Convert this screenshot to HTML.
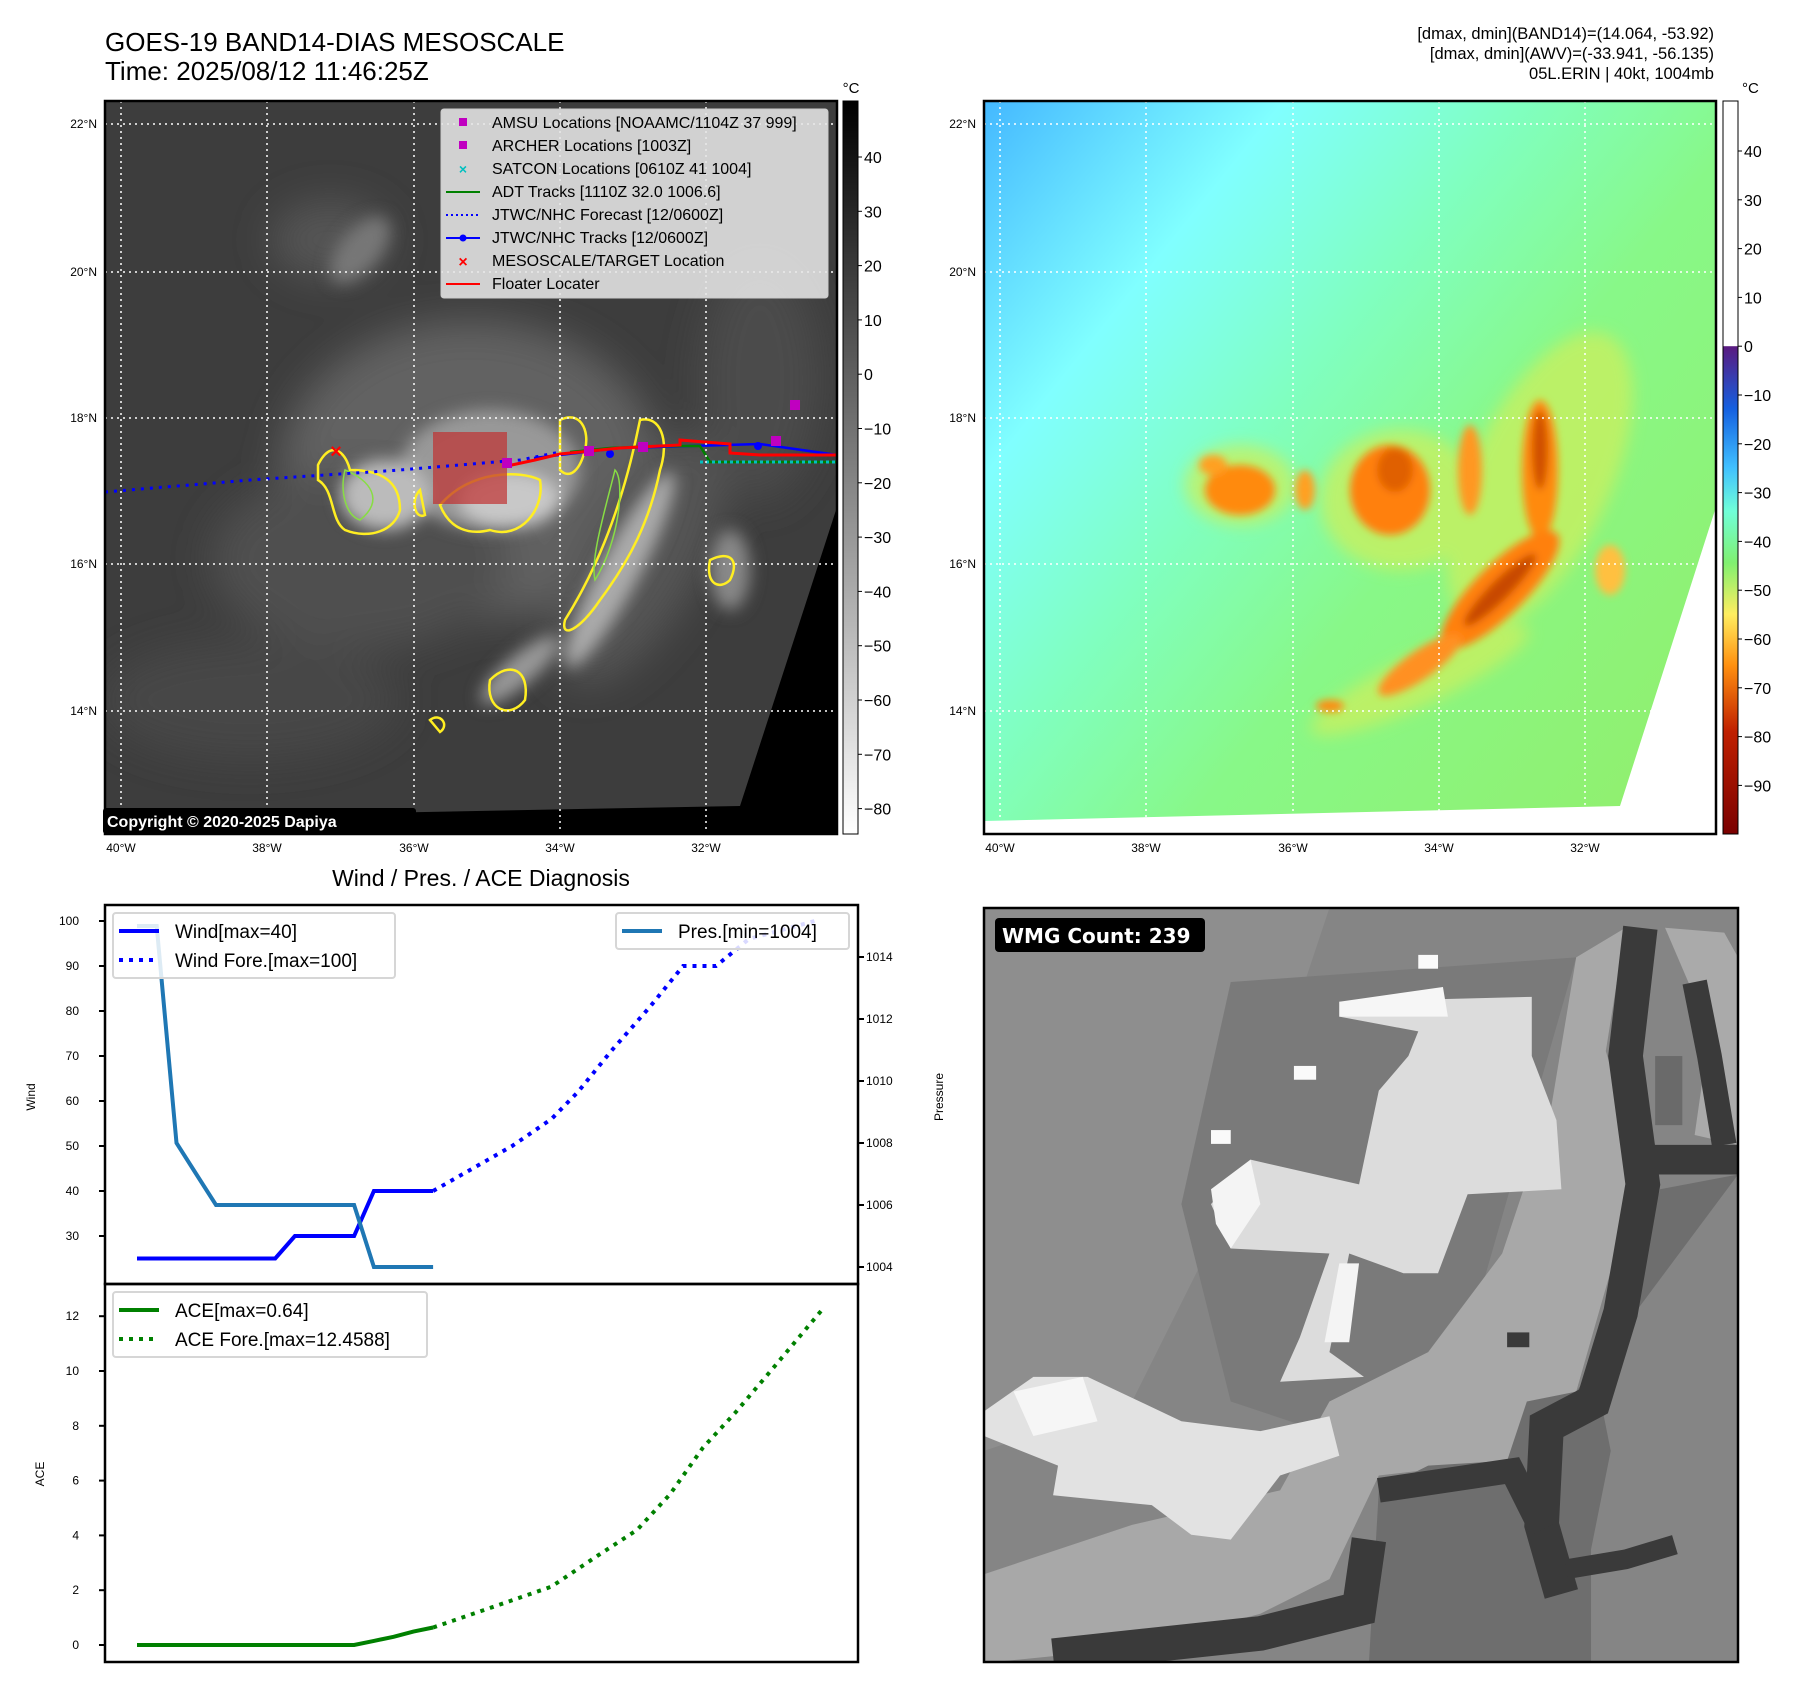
<!DOCTYPE html>
<html><head><meta charset="utf-8"><style>
html,body{margin:0;padding:0;background:#fff;}
svg{display:block;font-family:"Liberation Sans","DejaVu Sans",sans-serif;}
</style></head><body>
<svg id="fig" width="1797" height="1690" viewBox="0 0 1797 1690" xmlns="http://www.w3.org/2000/svg">
<defs>
<filter id="bl8" x="-50%" y="-50%" width="200%" height="200%"><feGaussianBlur stdDeviation="8"/></filter>
<filter id="bl4" x="-50%" y="-50%" width="200%" height="200%"><feGaussianBlur stdDeviation="4"/></filter>
<filter id="bl20" x="-50%" y="-50%" width="200%" height="200%"><feGaussianBlur stdDeviation="20"/></filter>
<clipPath id="clipL"><rect x="105" y="101" width="732" height="733"/></clipPath>
<clipPath id="clipR"><rect x="984" y="101" width="732" height="733"/></clipPath>
<clipPath id="clipB"><rect x="984" y="908" width="754" height="754"/></clipPath>
<linearGradient id="gray" x1="0" y1="0" x2="0" y2="1"><stop offset="0" stop-color="#000"/><stop offset="1" stop-color="#fff"/></linearGradient>
<linearGradient id="jet" x1="0" y1="0" x2="0" y2="1">
<stop offset="0" stop-color="#fff"/><stop offset="0.334" stop-color="#fff"/>
<stop offset="0.335" stop-color="#5a1a80"/><stop offset="0.42" stop-color="#1560e0"/>
<stop offset="0.5" stop-color="#40c0ff"/><stop offset="0.56" stop-color="#70ffd8"/>
<stop offset="0.63" stop-color="#80f070"/><stop offset="0.7" stop-color="#ffee60"/>
<stop offset="0.77" stop-color="#ff9010"/><stop offset="0.86" stop-color="#c02000"/>
<stop offset="1" stop-color="#7a0000"/></linearGradient>
<linearGradient id="awv" x1="0" y1="0" x2="1" y2="0.8">
<stop offset="0" stop-color="#44b8ff"/><stop offset="0.25" stop-color="#80ffff"/>
<stop offset="0.45" stop-color="#80ffc0"/><stop offset="0.65" stop-color="#88f888"/>
<stop offset="1" stop-color="#90f070"/></linearGradient>
</defs>

<text x="105" y="51" font-size="26">GOES-19 BAND14-DIAS MESOSCALE</text>
<text x="105" y="80" font-size="26">Time: 2025/08/12 11:46:25Z</text>
<g font-size="16.5" text-anchor="end">
<text x="1714" y="39">[dmax, dmin](BAND14)=(14.064, -53.92)</text>
<text x="1714" y="59">[dmax, dmin](AWV)=(-33.941, -56.135)</text>
<text x="1714" y="79">05L.ERIN | 40kt, 1004mb</text>
</g>

<!-- Left IR map -->
<g clip-path="url(#clipL)">
<rect x="105" y="101" width="732" height="733" fill="#3d3d3d"/>
<g filter="url(#bl20)">
<ellipse cx="470" cy="470" rx="190" ry="150" fill="#626262"/>
<ellipse cx="330" cy="240" rx="60" ry="40" fill="#555"/>
<ellipse cx="360" cy="560" rx="150" ry="90" fill="#505050"/>
<ellipse cx="640" cy="560" rx="60" ry="140" fill="#555" transform="rotate(30 640 560)"/>
<ellipse cx="760" cy="380" rx="60" ry="120" fill="#4c4c4c"/>
<ellipse cx="250" cy="700" rx="150" ry="60" fill="#474747"/>
</g>
<g filter="url(#bl8)">
<ellipse cx="490" cy="470" rx="90" ry="60" fill="#999"/>
<ellipse cx="385" cy="495" rx="45" ry="35" fill="#bbb"/>
<ellipse cx="510" cy="500" rx="50" ry="28" fill="#c8c8c8"/>
<ellipse cx="620" cy="570" rx="20" ry="110" fill="#aaa" transform="rotate(28 620 570)"/>
<ellipse cx="520" cy="670" rx="15" ry="50" fill="#999" transform="rotate(50 520 670)"/>
<ellipse cx="730" cy="570" rx="20" ry="40" fill="#888"/>
<ellipse cx="360" cy="250" rx="20" ry="40" fill="#777" transform="rotate(40 360 250)"/>
</g>
<g fill="none" stroke="#ffee22" stroke-width="2.5">
<path d="M318,465 C330,440 345,450 350,470 C380,470 400,480 400,510 C395,530 370,540 345,530 C330,520 335,490 318,480 Z"/>
<path d="M440,505 C470,470 520,470 540,480 C545,510 520,540 490,530 C470,535 450,530 440,505 Z"/>
<path d="M420,490 C410,500 415,520 425,515 Z"/>
<path d="M560,420 C580,410 590,430 585,450 C580,470 570,480 560,470 Z"/>
<path d="M640,420 C660,415 670,440 660,470 C650,520 630,560 600,600 C580,630 560,640 565,620 C590,580 620,520 640,420 Z"/>
<path d="M490,680 C510,660 530,670 525,700 C510,720 485,710 490,680 Z"/>
<path d="M710,560 C730,550 740,560 730,580 C720,590 705,585 710,560 Z"/>
<path d="M430,720 C440,712 450,725 440,732 Z"/>
</g>
<g fill="none" stroke="#88dd44" stroke-width="1.5">
<path d="M345,470 C370,480 385,500 360,520 C345,515 340,490 345,470 Z"/>
<path d="M615,470 C625,480 620,540 595,580 C590,560 605,510 615,470 Z"/>
</g>
<polygon points="837,507 740,806 105,818 105,834 837,834" fill="#000"/>
<rect x="433" y="432" width="74" height="72" fill="#c03030" fill-opacity="0.7"/>
</g>
<g clip-path="url(#clipL)">
<polyline points="105,492 250,480 400,470 520,460 560,452" fill="none" stroke="#0000ff" stroke-width="3" stroke-dasharray="3 6"/>
<polyline points="534,458 560,455 620,448 690,446 760,444 837,455" fill="none" stroke="#0000ff" stroke-width="2.5"/>
<circle cx="610" cy="454" r="4" fill="#0000ff"/><circle cx="758" cy="446" r="4" fill="#0000ff"/>
<polyline points="570,452 610,448 660,446 700,446 710,462 837,462" fill="none" stroke="#008000" stroke-width="2.5"/>
<polyline points="700,462 837,462" fill="none" stroke="#00c0c0" stroke-width="3" stroke-dasharray="3 3"/>
<polyline points="507,466 535,460 560,454 620,448 680,445 680,440 730,444 730,453 760,455 837,455" fill="none" stroke="#ff0000" stroke-width="3"/>
<g fill="#c000c0"><rect x="502" y="458" width="10" height="10"/><rect x="584" y="446" width="10" height="10"/><rect x="638" y="442" width="10" height="10"/><rect x="790" y="400" width="10" height="10"/><rect x="771" y="436" width="10" height="10"/></g>
<text x="336" y="458" font-size="20" font-weight="bold" fill="#ff0000" text-anchor="middle">×</text>
</g>
<g stroke="#fff" stroke-width="1.5" stroke-dasharray="2 4">
<line x1="121" y1="101" x2="121" y2="834"/><line x1="267" y1="101" x2="267" y2="834"/><line x1="414" y1="101" x2="414" y2="834"/><line x1="560" y1="101" x2="560" y2="834"/><line x1="706" y1="101" x2="706" y2="834"/>
<line x1="105" y1="124" x2="837" y2="124"/><line x1="105" y1="272" x2="837" y2="272"/><line x1="105" y1="418" x2="837" y2="418"/><line x1="105" y1="564" x2="837" y2="564"/><line x1="105" y1="711" x2="837" y2="711"/>
</g>
<rect x="105" y="101" width="732" height="733" fill="none" stroke="#000" stroke-width="2.5"/>
<rect x="103" y="808" width="313" height="26" rx="3" fill="#000"/>
<text x="107" y="827" font-size="16" font-weight="bold" fill="#fff">Copyright © 2020-2025 Dapiya</text>

<g font-size="16">
<rect x="441" y="109" width="387" height="189" rx="3" fill="#e6e6e6" fill-opacity="0.88" stroke="#ccc"/>
<rect x="459" y="118" width="8" height="8" fill="#c000c0"/><text x="492" y="128">AMSU Locations [NOAAMC/1104Z 37 999]</text>
<rect x="459" y="141" width="8" height="8" fill="#c000c0"/><text x="492" y="151">ARCHER Locations [1003Z]</text>
<text x="463" y="174" fill="#00c0c0" text-anchor="middle" font-weight="bold" font-size="14">×</text><text x="492" y="174">SATCON Locations [0610Z 41 1004]</text>
<line x1="446" y1="192" x2="480" y2="192" stroke="#008000" stroke-width="2"/><text x="492" y="197">ADT Tracks [1110Z 32.0 1006.6]</text>
<line x1="446" y1="215" x2="480" y2="215" stroke="#0000ff" stroke-width="2" stroke-dasharray="2 3"/><text x="492" y="220">JTWC/NHC Forecast [12/0600Z]</text>
<line x1="446" y1="238" x2="480" y2="238" stroke="#0000ff" stroke-width="2"/><circle cx="463" cy="238" r="3.5" fill="#0000ff"/><text x="492" y="243">JTWC/NHC Tracks [12/0600Z]</text>
<text x="463" y="267" fill="#ff0000" text-anchor="middle" font-weight="bold" font-size="16">×</text><text x="492" y="266">MESOSCALE/TARGET Location</text>
<line x1="446" y1="284" x2="480" y2="284" stroke="#ff0000" stroke-width="2"/><text x="492" y="289">Floater Locater</text>
</g>

<g font-size="16">
<rect x="843" y="101" width="15" height="733" fill="url(#gray)" stroke="#000"/>
<text x="851" y="93" font-size="15" text-anchor="middle">°C</text>
<g id="cb1"></g>
</g>

<!-- Right AWV map -->
<g clip-path="url(#clipR)">
<rect x="984" y="101" width="732" height="733" fill="url(#awv)"/>
<g filter="url(#bl8)" fill="#c8f060" opacity="0.8">
<ellipse cx="1540" cy="480" rx="70" ry="160" transform="rotate(25 1540 480)"/>
<ellipse cx="1400" cy="500" rx="80" ry="70"/>
<ellipse cx="1240" cy="485" rx="55" ry="40"/>
<ellipse cx="1420" cy="680" rx="120" ry="25" transform="rotate(-25 1420 680)"/>
</g>
<g filter="url(#bl4)">
<ellipse cx="1240" cy="490" rx="35" ry="25" fill="#ff8a10"/>
<ellipse cx="1213" cy="465" rx="14" ry="10" fill="#ffa020"/>
<ellipse cx="1305" cy="490" rx="10" ry="20" fill="#ffa020"/>
<ellipse cx="1390" cy="490" rx="40" ry="45" fill="#ff8010"/>
<ellipse cx="1395" cy="470" rx="18" ry="22" fill="#e06000"/>
<ellipse cx="1470" cy="470" rx="12" ry="45" fill="#ff9820"/>
<ellipse cx="1540" cy="470" rx="18" ry="70" fill="#ff8a10"/>
<ellipse cx="1540" cy="450" rx="8" ry="40" fill="#d05000"/>
<ellipse cx="1500" cy="590" rx="25" ry="80" fill="#ff8010" transform="rotate(45 1500 590)"/>
<ellipse cx="1500" cy="590" rx="10" ry="50" fill="#c84800" transform="rotate(45 1500 590)"/>
<ellipse cx="1420" cy="665" rx="14" ry="50" fill="#ff9020" transform="rotate(55 1420 665)"/>
<ellipse cx="1610" cy="570" rx="15" ry="25" fill="#ffc040"/>
<ellipse cx="1330" cy="706" rx="14" ry="6" fill="#ff8a10"/>
</g>
<polygon points="1716,507 1620,806 984,821 984,834 1716,834" fill="#fff"/>
</g>
<g stroke="#fff" stroke-width="1.5" stroke-dasharray="2 4">
<line x1="1000" y1="101" x2="1000" y2="834"/><line x1="1146" y1="101" x2="1146" y2="834"/><line x1="1293" y1="101" x2="1293" y2="834"/><line x1="1439" y1="101" x2="1439" y2="834"/><line x1="1585" y1="101" x2="1585" y2="834"/>
<line x1="984" y1="124" x2="1716" y2="124"/><line x1="984" y1="272" x2="1716" y2="272"/><line x1="984" y1="418" x2="1716" y2="418"/><line x1="984" y1="564" x2="1716" y2="564"/><line x1="984" y1="711" x2="1716" y2="711"/>
</g>
<rect x="984" y="101" width="732" height="733" fill="none" stroke="#000" stroke-width="2.5"/>
<g font-size="16">
<rect x="1723" y="101" width="15" height="733" fill="url(#jet)" stroke="#000"/>
<text x="1742" y="93" font-size="15">°C</text>
<g id="cb2"></g>
</g>
<g id="mapticks" font-size="12"></g>

<!-- Bottom-right WMG -->
<g clip-path="url(#clipB)">
<g transform="translate(984,908) scale(0.4935)">
<rect x="0" y="0" width="1528" height="1528" fill="#858585"/>
<polygon points="0,0 700,0 500,600 300,1000 0,1100" fill="#8e8e8e"/>
<polygon points="500,150 1200,100 1000,800 800,1100 500,1000 400,600" fill="#7a7a7a"/>
<polygon points="1200,100 1300,40 1260,290 1340,560 1280,700 1200,980 1060,1120 800,1150 700,1360 560,1430 300,1500 0,1530 0,1350 300,1250 600,1180 700,1000 900,900 1050,700 1150,400" fill="#a8a8a8"/>
<polygon points="1380,40 1500,50 1528,100 1528,480 1440,460 1470,250" fill="#aaa"/>
<polygon points="720,190 1110,180 1110,300 1160,430 1170,570 980,580 920,740 850,740 740,700 700,900 770,950 600,960 640,870 700,700 500,690 460,600 540,510 760,560 800,370 860,300 880,250 720,220" fill="#dcdcdc"/>
<polygon points="720,190 930,160 940,220 720,220" fill="#f6f6f6"/>
<polygon points="460,570 540,510 560,600 500,690 470,640" fill="#f4f4f4"/>
<polygon points="720,720 760,720 740,880 690,880" fill="#f4f4f4"/>
<polygon points="0,1020 100,950 210,950 400,1040 560,1060 700,1030 720,1110 600,1150 500,1280 420,1270 340,1210 140,1190 150,1130 0,1070" fill="#e2e2e2"/>
<polygon points="60,980 200,950 230,1040 100,1070" fill="#f6f6f6"/>
<polygon points="1528,540 1370,570 1300,820 1250,1000 1270,1100 1230,1300 1230,1530 780,1530 800,1180 900,1130 1060,1120 1100,1000 1200,980" fill="#6e6e6e"/>
<g fill="none" stroke="#3a3a3a" stroke-linejoin="miter">
<polyline points="1330,40 1300,300 1335,560 1290,820 1235,1000 1140,1050 1130,1250 1170,1390" stroke-width="70"/>
<polyline points="1440,150 1470,300 1500,480" stroke-width="50"/>
<polyline points="1340,510 1528,510" stroke-width="60"/>
<polyline points="800,1180 1070,1140 1130,1260" stroke-width="50"/>
<polyline points="1180,1340 1300,1320 1400,1290" stroke-width="40"/>
<polyline points="780,1280 760,1420 560,1470 140,1515" stroke-width="70"/>
</g>
<rect x="1360" y="300" width="55" height="140" fill="#6a6a6a"/>
<rect x="880" y="95" width="40" height="28" fill="#fafafa"/><rect x="628" y="320" width="45" height="28" fill="#fafafa"/><rect x="460" y="450" width="40" height="28" fill="#fafafa"/>
<rect x="1060" y="860" width="45" height="30" fill="#3a3a3a"/>
</g>
</g>
<rect x="984" y="908" width="754" height="754" fill="none" stroke="#000" stroke-width="2.5"/>
<rect x="995" y="918" width="210" height="34" rx="4" fill="#000"/>
<text x="1002" y="943" font-size="20" font-weight="bold" fill="#fff" font-family="DejaVu Sans, sans-serif">WMG Count: 239</text>

<text x="481" y="886" font-size="23" text-anchor="middle">Wind / Pres. / ACE Diagnosis</text>
<g id="chart"></g>
</svg>
<script>
var obsHours = [0,3,6,9,12,15,18,21,24,27,30,33,36,39,42,45];
var windObs = [25,25,25,25,25,25,25,25,30,30,30,30,40,40,40,40];
var presObs = [1015,1015,1008,1007,1006,1006,1006,1006,1006,1006,1006,1006,1004,1004,1004,1004];
var aceObs = [0,0,0,0,0,0,0,0,0,0,0,0,0.15,0.3,0.49,0.64];
var windForeHours = [45,51,57,63,67,72,78,83,88,93,103];
var windFore = [40,45,50,56,62,71,81,90,90,96,100];
var aceForeHours = [45,54,63,70,76,81,86,91,97,104];
var aceFore = [0.64,1.38,2.13,3.26,4.2,5.5,7.2,8.5,10.2,12.2];
var windTicks = [30,40,50,60,70,80,90,100];
var presTicks = [1004,1006,1008,1010,1012,1014];
var aceTicks = [0,2,4,6,8,10,12];
var cb1Ticks = [40,30,20,10,0,-10,-20,-30,-40,-50,-60,-70,-80];
var cb2Ticks = [40,30,20,10,0,-10,-20,-30,-40,-50,-60,-70,-80,-90];
var lonLabels = ["40°W","38°W","36°W","34°W","32°W"];
var latLabels = ["22°N","20°N","18°N","16°N","14°N"];

var NS = "http://www.w3.org/2000/svg";
function mk(tag, attrs, parent, txt){
  var e = document.createElementNS(NS, tag);
  for (var k in attrs) e.setAttribute(k, attrs[k]);
  if (txt !== undefined) e.textContent = txt;
  parent.appendChild(e); return e;
}
function xS(h){ return 137 + h*6.58; }
function wY(v){ return 921 + (100-v)*4.5; }
function pY(p){ return 957 + (1014-p)*31; }
function aY(a){ return 1645 - a*27.4; }
function aPts(xs, ys, fy){ return xs.map(function(h,i){ return xS(h).toFixed(1)+","+fy(ys[i]).toFixed(1); }).join(" "); }

var ch = document.getElementById("chart");
var f1 = mk("rect", {x:105,y:905,width:753,height:379,fill:"none",stroke:"#000","stroke-width":2.5}, ch);


var f2 = mk("rect", {x:105,y:1284,width:753,height:378,fill:"none",stroke:"#000","stroke-width":2.5}, ch);



windTicks.forEach(function(v){
  var y = wY(v);
  mk("line",{x1:99,y1:y,x2:105,y2:y,stroke:"#000","stroke-width":2},ch);
  var t = mk("text",{x:79,y:y+4,"font-size":12,"text-anchor":"end"},ch,String(v));
  
  
});
presTicks.forEach(function(v){
  var y = pY(v);
  mk("line",{x1:858,y1:y,x2:864,y2:y,stroke:"#000","stroke-width":2},ch);
  var t = mk("text",{x:866,y:y+4,"font-size":12},ch,String(v));
  
  
});
aceTicks.forEach(function(v){
  var y = aY(v);
  mk("line",{x1:99,y1:y,x2:105,y2:y,stroke:"#000","stroke-width":2},ch);
  var t = mk("text",{x:79,y:y+4,"font-size":12,"text-anchor":"end"},ch,String(v));
  
  
});
var yl1 = mk("text",{x:0,y:0,"font-size":12,transform:"translate(35,1097) rotate(-90)","text-anchor":"middle"},ch,"Wind");


var yl2 = mk("text",{x:0,y:0,"font-size":12,transform:"translate(943,1097) rotate(-90)","text-anchor":"middle"},ch,"Pressure");


var yl3 = mk("text",{x:0,y:0,"font-size":12,transform:"translate(44,1474) rotate(-90)","text-anchor":"middle"},ch,"ACE");



var sWf = mk("polyline",{points:aPts(windForeHours,windFore,wY),fill:"none",stroke:"#0000ff","stroke-width":4,"stroke-dasharray":"4 6"},ch);


var sW = mk("polyline",{points:aPts(obsHours,windObs,wY),fill:"none",stroke:"#0000ff","stroke-width":4},ch);


var sP = mk("polyline",{points:aPts(obsHours,presObs,pY),fill:"none",stroke:"#1f77b4","stroke-width":4},ch);


var sAf = mk("polyline",{points:aPts(aceForeHours,aceFore,aY),fill:"none",stroke:"#008000","stroke-width":4,"stroke-dasharray":"4 6"},ch);


var sA = mk("polyline",{points:aPts(obsHours,aceObs,aY),fill:"none",stroke:"#008000","stroke-width":4},ch);



function legend(x,y,w,entries,name){
  var g = mk("g",{},ch);
  
  
  mk("rect",{x:x,y:y,width:w,height:entries.length*29+7,rx:3,fill:"#fff","fill-opacity":0.85,stroke:"#d6d6d6","stroke-width":2},g);
  entries.forEach(function(e,i){
    var cy = y+18+i*29;
    var a = {x1:x+6,y1:cy,x2:x+46,y2:cy,stroke:e[1],"stroke-width":4};
    if (e[2]) a["stroke-dasharray"]="4 6";
    mk("line",a,g);
    mk("text",{x:x+62,y:cy+7,"font-size":19},g,e[0]);
  });
}
legend(113,913,282,[["Wind[max=40]","#0000ff",false],["Wind Fore.[max=100]","#0000ff",true]],"wind-legend");
legend(616,913,233,[["Pres.[min=1004]","#1f77b4",false]],"pressure-legend");
legend(113,1292,314,[["ACE[max=0.64]","#008000",false],["ACE Fore.[max=12.4588]","#008000",true]],"ace-legend");

var cb1 = document.getElementById("cb1");
cb1Ticks.forEach(function(v){
  var y = 157 + (40-v)*5.43;
  mk("line",{x1:858,y1:y,x2:862,y2:y,stroke:"#000"},cb1);
  var t = mk("text",{x:864,y:y+6,"font-size":16},cb1,String(v).replace("-","\u2212"));
  
  
});
var cb2 = document.getElementById("cb2");
cb2Ticks.forEach(function(v){
  var y = 151 + (40-v)*4.88;
  mk("line",{x1:1738,y1:y,x2:1742,y2:y,stroke:"#000"},cb2);
  var t = mk("text",{x:1744,y:y+6,"font-size":16},cb2,String(v).replace("-","\u2212"));
  
  
});
var mt = document.getElementById("mapticks");
var gx = [121,267,414,560,706], gy = [124,272,418,564,711];
[0,879].forEach(function(off){
  lonLabels.forEach(function(l,i){
    var t = mk("text",{x:gx[i]+off,y:852,"text-anchor":"middle","font-size":12},mt,l);
    
    
  });
  latLabels.forEach(function(l,i){
    var t = mk("text",{x:97+off,y:gy[i]+4,"text-anchor":"end","font-size":12},mt,l);
    
    
  });
});
</script>
</body></html>
